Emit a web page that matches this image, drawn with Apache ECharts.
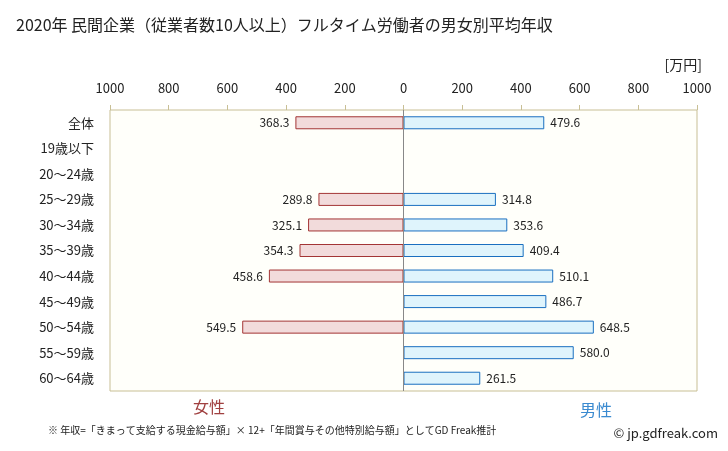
<!DOCTYPE html>
<html><head><meta charset="utf-8">
<script src="https://cdn.jsdelivr.net/npm/echarts@6/dist/echarts.min.js"></script>
<style>html,body{margin:0;padding:0;background:#fff}#c{width:728px;height:451px}</style>
</head><body><div id="c"></div>
<script>
const categories = ['全体','19歳以下','20～24歳','25～29歳','30～34歳','35～39歳','40～44歳','45～49歳','50～54歳','55～59歳','60～64歳'];
const female = [368.3, null, null, 289.8, 325.1, 354.3, 458.6, null, 549.5, null, null];
const male = [479.6, null, null, 314.8, 353.6, 409.4, 510.1, 486.7, 648.5, 580.0, 261.5];
const tickValues = [-1000,-800,-600,-400,-200,0,200,400,600,800,1000];

const FONT = '"Noto Sans CJK JP", "Noto Sans", sans-serif';
const chart = echarts.init(document.getElementById('c'), null, {renderer:'canvas'});
chart.setOption({
  animation:false,
  textStyle:{fontFamily:FONT},
  grid:{left:110,right:31,top:110,bottom:60,show:true,backgroundColor:'#fffffa',borderColor:'#c8bf95',borderWidth:1,containLabel:false},
  xAxis:{type:'value',position:'top',min:tickValues[0],max:tickValues[tickValues.length-1],interval:200,
    axisLine:{show:false},
    axisTick:{show:true,inside:false,length:5,lineStyle:{color:'#c8bf95'}},
    splitLine:{show:false},
    axisLabel:{margin:15,fontSize:13,color:'#222',fontFamily:FONT,formatter:v=>String(Math.abs(v))}},
  yAxis:{type:'category',data:categories,inverse:true,
    axisLine:{show:false,onZero:false},axisTick:{show:false},
    axisLabel:{margin:16,fontSize:13,color:'#222',fontFamily:FONT}},
  series:[
    {name:'女性',type:'bar',data:female.map(v=>v==null?null:-v),barWidth:13,barGap:'-100%',
     itemStyle:{color:'#f2dbdb',borderColor:'#a33535',borderWidth:1},
     label:{show:true,position:'left',distance:6,fontSize:12,color:'#222',fontFamily:FONT,formatter:p=>Math.abs(p.value).toFixed(1)},
     markLine:{silent:true,symbol:'none',label:{show:false},lineStyle:{color:'#888',type:'solid',width:1},data:[{xAxis:0}]}},
    {name:'男性',type:'bar',data:male,barWidth:13,barGap:'-100%',
     itemStyle:{color:'#dff4fc',borderColor:'#1a6fc0',borderWidth:1},
     label:{show:true,position:'right',distance:6,fontSize:12,color:'#222',fontFamily:FONT,formatter:p=>p.value.toFixed(1)}}
  ],
  graphic:[
    {type:'text',x:16,y:25,style:{text:'2020年 民間企業（従業者数10人以上）フルタイム労働者の男女別平均年収',fontSize:16,fill:'#222',fontFamily:FONT,verticalAlign:'middle'}},
    {type:'text',x:702,y:65,style:{text:'[万円]',fontSize:14,fill:'#222',fontFamily:FONT,align:'right',verticalAlign:'middle'}},
    {type:'text',x:209,y:407,style:{text:'女性',fontSize:16,fill:'#a04040',fontFamily:FONT,align:'center',verticalAlign:'middle'}},
    {type:'text',x:596,y:410,style:{text:'男性',fontSize:16,fill:'#3a8ad0',fontFamily:FONT,align:'center',verticalAlign:'middle'}},
    {type:'text',x:48,y:430,style:{text:'※ 年収=「きまって支給する現金給与額」× 12+「年間賞与その他特別給与額」としてGD Freak推計',fontSize:10,fill:'#222',fontFamily:FONT,verticalAlign:'middle'}},
    {type:'text',x:718,y:433,style:{text:'© jp.gdfreak.com',fontSize:13,fill:'#222',fontFamily:FONT,align:'right',verticalAlign:'middle'}}
  ]
});
</script></body></html>
